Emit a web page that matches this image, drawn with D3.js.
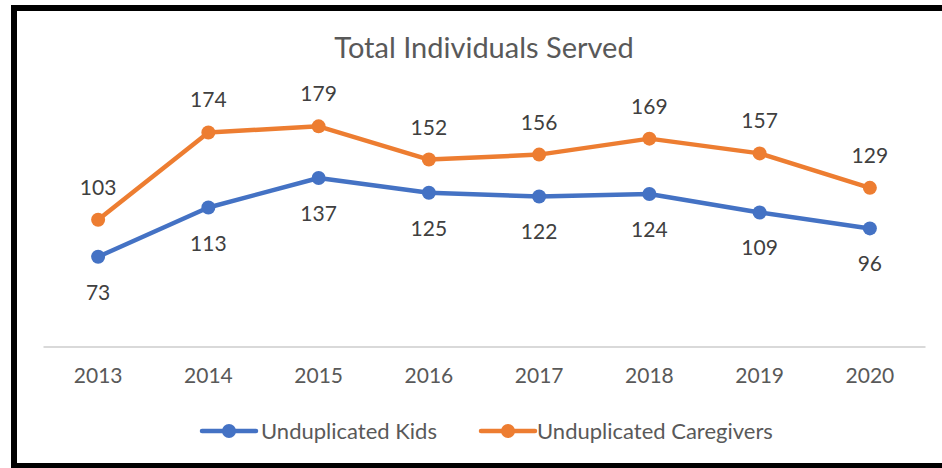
<!DOCTYPE html>
<html><head><meta charset="utf-8">
<script src="https://cdn.jsdelivr.net/npm/d3@7"></script>
<style>body{margin:0;background:#fff;}svg{display:block;}</style>
</head><body>
<svg id="c" width="942" height="468"></svg>
<script>
const years = ["2013","2014","2015","2016","2017","2018","2019","2020"];
const kids = [73,113,137,125,122,124,109,96];
const caregivers = [103,174,179,152,156,169,157,129];
const seriesNames = ["Unduplicated Kids","Unduplicated Caregivers"];
const colors = ["#4472C4","#ED7D31"];
const title = "Total Individuals Served";

const svg = d3.select("#c");
const font = "Lato, 'Open Sans', sans-serif";
// frame
svg.append("rect").attr("x",14).attr("y",8).attr("width",940).attr("height",458)
  .attr("fill","none").attr("stroke","#000").attr("stroke-width",6);
svg.append("line").attr("x1",11).attr("x2",942).attr("y1",466.5).attr("y2",466.5).attr("stroke","#000").attr("stroke-width",3);

const x = d3.scaleBand().domain(years).range([43,925]);
const y = d3.scaleLinear().domain([0,200]).range([346.5,100.5]);

svg.append("text").attr("x",484).attr("y",58).attr("text-anchor","middle")
  .attr("font-family",font).attr("font-size",29).attr("fill","#595959").text(title);

const ax = svg.append("g").attr("transform","translate(0,346.5)")
  .call(d3.axisBottom(x).tickSize(0).tickPadding(22));
ax.select(".domain").attr("stroke","#D9D9D9").attr("stroke-width",2);
ax.selectAll("text").attr("font-family",font).attr("font-size",21).attr("fill","#595959");

const data = [kids, caregivers];
const line = d3.line().x((d,i)=>x(years[i])+x.bandwidth()/2).y(d=>y(d));
data.forEach((vals,s)=>{
  const g = svg.append("g");
  g.append("path").datum(vals).attr("d",line).attr("fill","none")
    .attr("stroke",colors[s]).attr("stroke-width",4.5).attr("stroke-linejoin","round").attr("stroke-linecap","round");
  g.selectAll("circle").data(vals).join("circle")
    .attr("cx",(d,i)=>x(years[i])+x.bandwidth()/2).attr("cy",d=>y(d)).attr("r",7).attr("fill",colors[s]);
  g.selectAll("text").data(vals).join("text")
    .attr("x",(d,i)=>x(years[i])+x.bandwidth()/2)
    .attr("y",d=> s===0 ? y(d)+43 : y(d)-25)
    .attr("text-anchor","middle").attr("font-family",font).attr("font-size",21).attr("fill","#404040")
    .text(d=>d);
});

// legend
const leg = [{x0:200,tx:261},{x0:479,tx:537}];
leg.forEach((l,s)=>{
  const g = svg.append("g");
  g.append("line").attr("x1",l.x0+2).attr("x2",l.x0+56).attr("y1",431).attr("y2",431)
    .attr("stroke",colors[s]).attr("stroke-width",4.5).attr("stroke-linecap","round");
  g.append("circle").attr("cx",l.x0+29).attr("cy",431).attr("r",7).attr("fill",colors[s]);
  g.append("text").attr("x",l.tx).attr("y",438.5).attr("font-family",font).attr("font-size",22)
    .attr("fill","#595959").text(seriesNames[s]);
});
</script>
</body></html>
